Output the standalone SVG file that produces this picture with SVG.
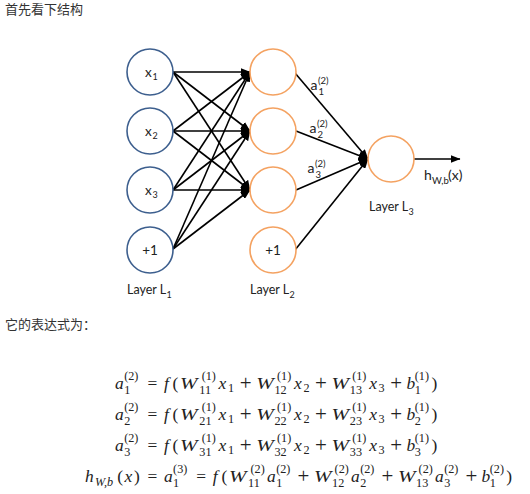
<svg xmlns="http://www.w3.org/2000/svg" width="530" height="494" viewBox="0 0 530 494">
<defs>
<style>
.cjk{font-family:"Noto Sans CJK SC","Noto Sans",sans-serif;font-size:13px;fill:#333}
.lbl{font-family:Lato,"Liberation Sans",sans-serif;font-size:13.5px;fill:#222}
.al{font-family:Lato,"Liberation Sans",sans-serif;font-size:14px;fill:#222}
.lay{font-family:Lato,"Liberation Sans",sans-serif;font-size:12.5px;fill:#222}
.ls{font-family:Lato,"Liberation Sans",sans-serif;font-size:9px;fill:#222}
.as{font-family:Lato,"Liberation Sans",sans-serif;font-size:9.5px;fill:#222}
.n1{fill:#fff;stroke:#3d5f8e;stroke-width:1.6}
.n2{fill:#fff;stroke:#f4a261;stroke-width:1.6}
.c{stroke:#000;stroke-width:1.6;fill:none;marker-end:url(#ah)}
.math text{font-family:"Liberation Serif","Times New Roman",serif;fill:#222}
.mi{font-size:17.4px;font-style:italic}
.mn{font-size:17.4px}
.mo{font-size:17.4px;text-anchor:middle}
.pl{font-size:21px;text-anchor:middle}
.sc{font-size:12.2px}
.si{font-size:12.2px;font-style:italic}
</style>
<marker id="ah" markerUnits="userSpaceOnUse" markerWidth="10" markerHeight="8" refX="9.5" refY="4" orient="auto">
<path d="M0,0 L10,4 L0,8 z" fill="#000"/>
</marker>
</defs>
<rect width="530" height="494" fill="#fff"/>
<text class="cjk" x="5" y="14">首先看下结构</text>
<text class="cjk" x="5" y="329">它的表达式为：</text>

<g id="connectors">
<line class="c" x1="173" y1="72" x2="250" y2="72"/>
<line class="c" x1="173" y1="72" x2="250" y2="131"/>
<line class="c" x1="173" y1="72" x2="250" y2="190"/>
<line class="c" x1="173" y1="131" x2="250" y2="72"/>
<line class="c" x1="173" y1="131" x2="250" y2="131"/>
<line class="c" x1="173" y1="131" x2="250" y2="190"/>
<line class="c" x1="173" y1="190" x2="250" y2="72"/>
<line class="c" x1="173" y1="190" x2="250" y2="131"/>
<line class="c" x1="173" y1="190" x2="250" y2="190"/>
<line class="c" x1="173" y1="249" x2="250" y2="72"/>
<line class="c" x1="173" y1="249" x2="250" y2="131"/>
<line class="c" x1="173" y1="249" x2="250" y2="190"/>
<line class="c" x1="295" y1="73" x2="368" y2="159"/>
<line class="c" x1="296" y1="131" x2="368" y2="159"/>
<line class="c" x1="296" y1="190" x2="368" y2="159"/>
<line class="c" x1="295" y1="250" x2="368" y2="159"/>
<line class="c" x1="414" y1="159" x2="460" y2="159"/>
</g>

<g id="x1"><circle class="n1" cx="150" cy="72" r="23"/><text class="lbl" x="145" y="77">x</text><text class="ls" x="152.5" y="80">1</text></g>
<g id="x2"><circle class="n1" cx="150" cy="131" r="23"/><text class="lbl" x="145" y="136">x</text><text class="ls" x="152.5" y="139">2</text></g>
<g id="x3"><circle class="n1" cx="150" cy="190" r="23"/><text class="lbl" x="145" y="195">x</text><text class="ls" x="152.5" y="198">3</text></g>
<g id="b1"><circle class="n1" cx="150" cy="250" r="23"/><text class="lbl" x="150" y="255" text-anchor="middle">+1</text></g>
<g id="h1"><circle class="n2" cx="273" cy="72" r="23"/></g>
<g id="h2"><circle class="n2" cx="273" cy="131" r="23"/></g>
<g id="h3"><circle class="n2" cx="273" cy="190" r="23"/></g>
<g id="b2"><circle class="n2" cx="273" cy="250" r="23"/><text class="lbl" x="273" y="255" text-anchor="middle">+1</text></g>
<g id="out"><circle class="n2" cx="391" cy="159" r="23"/></g>

<g id="labels">
<text class="lay" x="127" y="294">Layer L</text><text class="ls" x="166.5" y="297.5">1</text>
<text class="lay" x="250" y="294">Layer L</text><text class="ls" x="289.5" y="297.5">2</text>
<text class="lay" x="369" y="211">Layer L</text><text class="ls" x="408.5" y="214.5">3</text>
<text class="al" x="310.5" y="90">a</text><text class="as" x="318" y="84">(2)</text><text class="as" x="318.5" y="94.5">1</text>
<text class="al" x="309.5" y="133">a</text><text class="as" x="317" y="127">(2)</text><text class="as" x="317.5" y="137.5">2</text>
<text class="al" x="307.5" y="173">a</text><text class="as" x="315" y="167">(2)</text><text class="as" x="315.5" y="177.5">3</text>
<text class="al" x="424" y="180">h</text><text class="as" x="432" y="184">W,b</text><text class="al" x="448" y="180">(x)</text>
</g>

<g id="equations" class="math">
<text class="mi" x="115" y="389">a</text><text class="sc" x="124.2" y="380">(2)</text><text class="sc" x="124.2" y="393.7">1</text>
<text class="mo" x="152.3" y="389">=</text>
<text class="mi" x="163.9" y="389">f</text><text class="mn" x="172.6" y="389">(</text>
<text class="mi" x="180" y="389" textLength="17.5" lengthAdjust="spacingAndGlyphs">W</text><text class="sc" x="201.7" y="380">(1)</text><text class="sc" x="199.3" y="393.7">11</text>
<text class="mi" x="218.6" y="389">x</text><text class="sc" x="228.1" y="391.6">1</text>
<text class="pl" x="245.7" y="390">+</text>
<text class="mi" x="256.3" y="389" textLength="17.5" lengthAdjust="spacingAndGlyphs">W</text><text class="sc" x="277" y="380">(1)</text><text class="sc" x="274.5" y="393.7">12</text>
<text class="mi" x="293.9" y="389">x</text><text class="sc" x="303.4" y="391.6">2</text>
<text class="pl" x="321" y="390">+</text>
<text class="mi" x="331.6" y="389" textLength="17.5" lengthAdjust="spacingAndGlyphs">W</text><text class="sc" x="352.2" y="380">(1)</text><text class="sc" x="349.8" y="393.7">13</text>
<text class="mi" x="369.2" y="389">x</text><text class="sc" x="378.6" y="391.6">3</text>
<text class="pl" x="396.2" y="390">+</text>
<text class="mi" x="406.4" y="389">b</text><text class="sc" x="414.8" y="380">(1)</text><text class="sc" x="414.8" y="393.7">1</text>
<text class="mn" x="431.5" y="389">)</text>

<text class="mi" x="115" y="420">a</text><text class="sc" x="124.2" y="411">(2)</text><text class="sc" x="124.2" y="424.7">2</text>
<text class="mo" x="152.3" y="420">=</text>
<text class="mi" x="163.9" y="420">f</text><text class="mn" x="172.6" y="420">(</text>
<text class="mi" x="180" y="420" textLength="17.5" lengthAdjust="spacingAndGlyphs">W</text><text class="sc" x="201.7" y="411">(1)</text><text class="sc" x="199.3" y="424.7">21</text>
<text class="mi" x="218.6" y="420">x</text><text class="sc" x="228.1" y="422.6">1</text>
<text class="pl" x="245.7" y="421">+</text>
<text class="mi" x="256.3" y="420" textLength="17.5" lengthAdjust="spacingAndGlyphs">W</text><text class="sc" x="277" y="411">(1)</text><text class="sc" x="274.5" y="424.7">22</text>
<text class="mi" x="293.9" y="420">x</text><text class="sc" x="303.4" y="422.6">2</text>
<text class="pl" x="321" y="421">+</text>
<text class="mi" x="331.6" y="420" textLength="17.5" lengthAdjust="spacingAndGlyphs">W</text><text class="sc" x="352.2" y="411">(1)</text><text class="sc" x="349.8" y="424.7">23</text>
<text class="mi" x="369.2" y="420">x</text><text class="sc" x="378.6" y="422.6">3</text>
<text class="pl" x="396.2" y="421">+</text>
<text class="mi" x="406.4" y="420">b</text><text class="sc" x="414.8" y="411">(1)</text><text class="sc" x="414.8" y="424.7">2</text>
<text class="mn" x="431.5" y="420">)</text>

<text class="mi" x="115" y="451">a</text><text class="sc" x="124.2" y="442">(2)</text><text class="sc" x="124.2" y="455.7">3</text>
<text class="mo" x="152.3" y="451">=</text>
<text class="mi" x="163.9" y="451">f</text><text class="mn" x="172.6" y="451">(</text>
<text class="mi" x="180" y="451" textLength="17.5" lengthAdjust="spacingAndGlyphs">W</text><text class="sc" x="201.7" y="442">(1)</text><text class="sc" x="199.3" y="455.7">31</text>
<text class="mi" x="218.6" y="451">x</text><text class="sc" x="228.1" y="453.6">1</text>
<text class="pl" x="245.7" y="452">+</text>
<text class="mi" x="256.3" y="451" textLength="17.5" lengthAdjust="spacingAndGlyphs">W</text><text class="sc" x="277" y="442">(1)</text><text class="sc" x="274.5" y="455.7">32</text>
<text class="mi" x="293.9" y="451">x</text><text class="sc" x="303.4" y="453.6">2</text>
<text class="pl" x="321" y="452">+</text>
<text class="mi" x="331.6" y="451" textLength="17.5" lengthAdjust="spacingAndGlyphs">W</text><text class="sc" x="352.2" y="442">(1)</text><text class="sc" x="349.8" y="455.7">33</text>
<text class="mi" x="369.2" y="451">x</text><text class="sc" x="378.6" y="453.6">3</text>
<text class="pl" x="396.2" y="452">+</text>
<text class="mi" x="406.4" y="451">b</text><text class="sc" x="414.8" y="442">(1)</text><text class="sc" x="414.8" y="455.7">3</text>
<text class="mn" x="431.5" y="451">)</text>

<text class="mi" x="85" y="482">h</text><text class="si" x="94.9" y="485.5">W,b</text>
<text class="mn" x="117.2" y="482">(</text><text class="mi" x="124.4" y="482">x</text><text class="mn" x="133.9" y="482">)</text>
<text class="mo" x="152.3" y="482">=</text>
<text class="mi" x="163.9" y="482">a</text><text class="sc" x="173.1" y="473">(3)</text><text class="sc" x="173.1" y="486.7">1</text>
<text class="mo" x="201.1" y="482">=</text>
<text class="mi" x="212.7" y="482">f</text><text class="mn" x="221.4" y="482">(</text>
<text class="mi" x="229" y="482" textLength="17.5" lengthAdjust="spacingAndGlyphs">W</text><text class="sc" x="250.5" y="473">(2)</text><text class="sc" x="248.1" y="486.7">11</text>
<text class="mi" x="267" y="482">a</text><text class="sc" x="276.2" y="473">(2)</text><text class="sc" x="276.2" y="486.7">1</text>
<text class="pl" x="303.3" y="483">+</text>
<text class="mi" x="313.9" y="482" textLength="17.5" lengthAdjust="spacingAndGlyphs">W</text><text class="sc" x="334.6" y="473">(2)</text><text class="sc" x="332.1" y="486.7">12</text>
<text class="mi" x="351" y="482">a</text><text class="sc" x="360.2" y="473">(2)</text><text class="sc" x="360.2" y="486.7">2</text>
<text class="pl" x="387.3" y="483">+</text>
<text class="mi" x="397.9" y="482" textLength="17.5" lengthAdjust="spacingAndGlyphs">W</text><text class="sc" x="418.6" y="473">(2)</text><text class="sc" x="416.1" y="486.7">13</text>
<text class="mi" x="435" y="482">a</text><text class="sc" x="444.2" y="473">(2)</text><text class="sc" x="444.2" y="486.7">3</text>
<text class="pl" x="471.3" y="483">+</text>
<text class="mi" x="481.4" y="482">b</text><text class="sc" x="489.8" y="473">(2)</text><text class="sc" x="489.8" y="486.7">1</text>
<text class="mn" x="506.3" y="482">)</text>
</g>
</svg>
